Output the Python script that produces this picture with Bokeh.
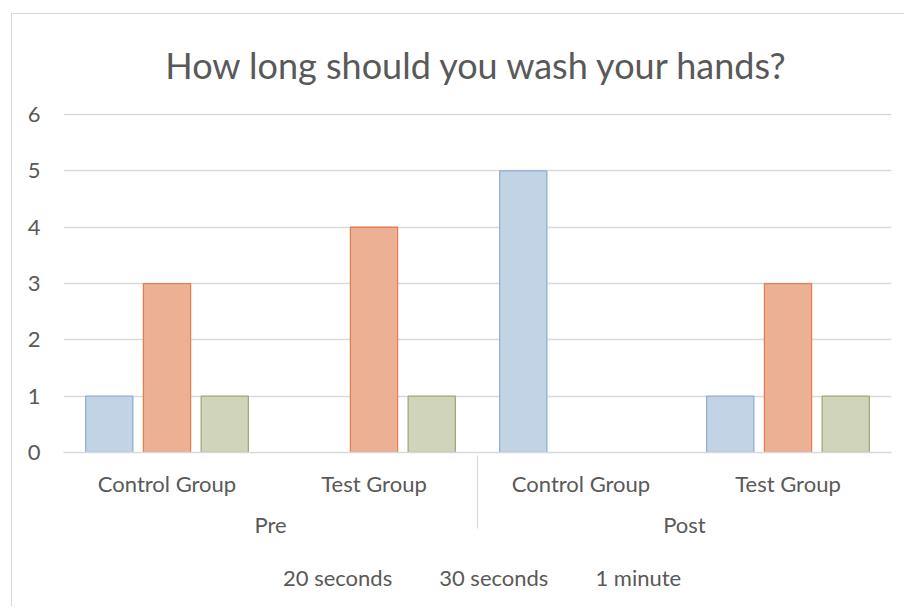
from bokeh.plotting import figure
from bokeh.layouts import column
from bokeh.models import FactorRange, Legend, LegendItem, ColumnDataSource, FixedTicker
from bokeh.transform import dodge
from bokeh.embed import file_html
from bokeh.resources import INLINE

groups = ["Pre", "Post"]
subgroups = ["Control Group", "Test Group"]
series = ["20 seconds", "30 seconds", "1 minute"]
v20 = [1, 0, 5, 1]
v30 = [3, 4, 0, 3]
v1m = [1, 1, 0, 1]
y_ticks = [0, 1, 2, 3, 4, 5, 6]

factors = [(g, s) for g in groups for s in subgroups]

FONT = "Lato"
GREY = "#595959"
BORDER = "1px solid #d9d9d9"

p = figure(
    frame_width=827, frame_height=338,
    x_range=FactorRange(*factors, range_padding=0, group_padding=0, subgroup_padding=0, factor_padding=0),
    y_range=(0, 6.02),
    output_backend="svg", toolbar_location=None,
    min_border_left=51, min_border_right=14, min_border_top=99, min_border_bottom=105,
)
p.margin = (13, 0, 0, 11)
p.styles = {"border-left": BORDER, "border-top": BORDER}
p.outline_line_color = None

p.title.text = "How long should you wash your hands?"
p.title.align = "center"
p.title.vertical_align = "top"
p.title.text_font = FONT
p.title.text_font_size = "36px"
p.title.text_font_style = "normal"
p.title.text_color = GREY
p.title.standoff = 50

colors = [("#c1d3e5", "#8fb0d1"), ("#ecb195", "#e2804f"), ("#cfd4bb", "#9dab7a")]
offsets = [-0.279, 0.0, 0.279]
for name, vals, (fc, lc), off in zip(series, [v20, v30, v1m], colors, offsets):
    xs = [f for f, v in zip(factors, vals) if v != 0]
    ys = [v for v in vals if v != 0]
    src = ColumnDataSource(dict(x=xs, y=ys))
    p.vbar(x=dodge("x", off, range=p.x_range), top="y", width=0.228, source=src,
           fill_color=fc, line_color=lc, line_width=1.3)

p.yaxis.ticker = FixedTicker(ticks=y_ticks)
p.yaxis.axis_line_color = None
p.yaxis.major_tick_line_color = None
p.yaxis.minor_tick_line_color = None
p.yaxis.major_label_standoff = 17
p.yaxis.major_label_text_font = FONT
p.yaxis.major_label_text_font_size = "22px"
p.yaxis.major_label_text_color = GREY

p.ygrid.grid_line_color = "#d9d9d9"
p.ygrid.grid_line_width = 1.3
p.xgrid.grid_line_color = None

xa = p.xaxis[0]
xa.axis_line_color = "#d9d9d9"
xa.axis_line_width = 1.3
xa.major_tick_line_color = None
xa.minor_tick_line_color = None
xa.major_label_text_font = FONT
xa.major_label_text_font_size = "22px"
xa.major_label_text_color = GREY
xa.group_text_font = FONT
xa.group_text_font_size = "22px"
xa.group_text_color = GREY
xa.group_text_font_style = "normal"
xa.major_label_standoff = 11
xa.separator_line_color = "#d9d9d9"
xa.separator_line_width = 1.3

# Legend strip below the chart
lf = figure(
    frame_width=892, frame_height=50, x_range=(0, 1), y_range=(0, 1),
    x_axis_type=None, y_axis_type=None,
    output_backend="svg", toolbar_location=None,
    min_border_left=0, min_border_right=0, min_border_top=0, min_border_bottom=0,
)
lf.margin = (0, 0, 0, 11)
lf.styles = {"border-left": BORDER}
lf.outline_line_color = None
items = []
for name, (fc, lc) in zip(series, colors):
    r = lf.vbar(x=[], top=[], width=0.1, fill_color=fc, line_color=lc, line_width=1.3)
    items.append(LegendItem(label=name, renderers=[r]))

legend = Legend(items=items, orientation="horizontal", location=(250, 15),
                label_text_font=FONT, label_text_font_size="22px", label_text_color=GREY,
                glyph_width=15, glyph_height=15, spacing=26, label_standoff=6,
                padding=0, border_line_color=None, background_fill_alpha=0, margin=0)
lf.add_layout(legend, "center")

layout = column(p, lf, spacing=0)
open("out.html", "w").write(file_html(layout, INLINE))
